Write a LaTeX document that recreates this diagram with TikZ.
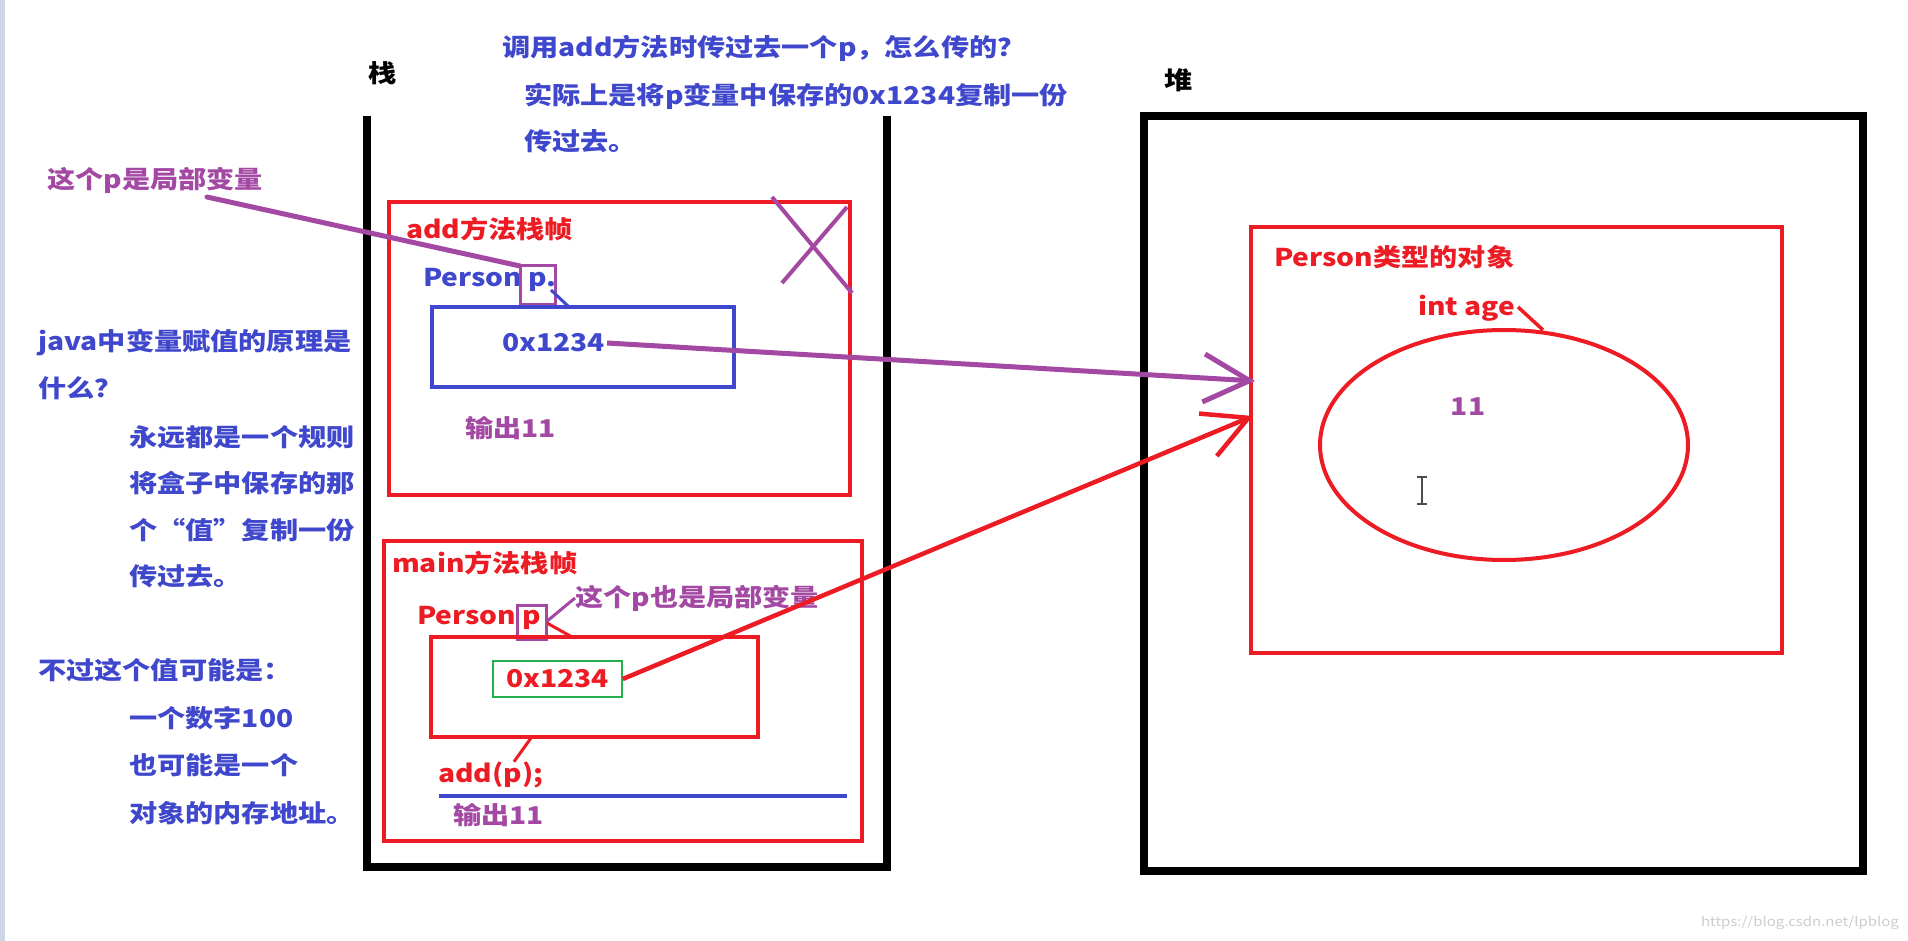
\documentclass[tikz,border=0pt]{standalone}
\usepackage{fontspec}
\setmainfont{Noto Sans CJK SC}[FakeStretch=1.15]
\usetikzlibrary{arrows.meta,shapes.geometric}
\definecolor{pblue}{RGB}{63,72,204}
\definecolor{pred}{RGB}{237,28,36}
\definecolor{ppurple}{RGB}{163,73,164}
\definecolor{pgreen}{RGB}{34,177,76}
\definecolor{wmark}{RGB}{205,205,205}
\definecolor{edgestrip}{RGB}{205,214,232}
\begin{document}
\begin{tikzpicture}[x=1pt,y=-1pt,
  txt/.style={inner sep=0pt, anchor=west, font=\bfseries\fontsize{24.5}{26}\selectfont},
  bluetxt/.style={txt,text=pblue},
  redtxt/.style={txt,text=pred},
  purpletxt/.style={txt,text=ppurple},
  blacktxt/.style={txt,text=black},
  boxnode/.style={inner sep=0pt, outer sep=0pt, anchor=north west, fill=none},
  redframe/.style={boxnode, draw=pred, line width=4pt},
  blueframe/.style={boxnode, draw=pblue, line width=4pt},
  purplesq/.style={boxnode, draw=ppurple, line width=3pt},
  blackframe/.style={draw=black, line width=8pt, line join=miter},
  purpleline/.style={draw=ppurple, line width=5pt, line cap=round},
]
\fill[white] (0,0) rectangle (1908,941);
\useasboundingbox (0,0) rectangle (1908,941);
\fill[edgestrip] (0,0) rectangle (5,941);

% labels
\node[blacktxt] (stk) at (368,73) {栈};
\node[blacktxt] (hp) at (1164,80) {堆};
\node[bluetxt] (q1) at (502,48) {调用add方法时传过去一个p，怎么传的？};
\node[bluetxt] (q2) at (524,96) {实际上是将p变量中保存的0x1234复制一份};
\node[bluetxt] (q3) at (524,141) {传过去。};

% left explanation
\node[purpletxt] (tlp) at (47,180) {这个p是局部变量};
\node[bluetxt] (l1) at (38,343) {java中变量赋值的原理是};
\node[bluetxt] (l2) at (38,388) {什么？};
\node[bluetxt] (l3) at (129,437) {永远都是一个规则};
\node[bluetxt] (l4) at (129,483) {将盒子中保存的那};
\node[bluetxt] (l5) at (129,530) {个“值”复制一份};
\node[bluetxt] (l6) at (129,576) {传过去。};
\node[bluetxt] (l7) at (38,670) {不过这个值可能是：};
\node[bluetxt] (l8) at (129,718) {一个数字100};
\node[bluetxt] (l9) at (129,765) {也可能是一个};
\node[bluetxt] (l10) at (129,813) {对象的内存地址。};

% stack
\coordinate (stA) at (367,116);
\coordinate (stB) at (367,867);
\coordinate (stC) at (887,867);
\coordinate (stD) at (887,116);
\draw[blackframe] (stA) -- (stB) -- (stC) -- (stD);

% add frame
\node[redframe, minimum width=461pt, minimum height=293pt] (addf) at (389,202) {};
\node[redtxt] (addt) at (406,229) {add方法栈帧};
\coordinate (x1a) at (772,197); \coordinate (x1b) at (852,293);
\coordinate (x2a) at (847,207); \coordinate (x2b) at (782,283);
\draw[draw=ppurple, line width=4pt] (x1a) -- (x1b);
\draw[draw=ppurple, line width=4pt] (x2a) -- (x2b);
\node[bluetxt] (aperson) at (423,280) {Person p.};
\node[purplesq, minimum width=35pt, minimum height=38pt] (apbox) at (520,266) {};
\node[blueframe, minimum width=302pt, minimum height=80pt] (abox) at (432,307) {};
\node[bluetxt] (aval) at (502,343) {0x1234};
\node[purpletxt] (aout) at (465,428) {输出11};
\coordinate (tlpfoot) at (207,197);
\draw[purpleline] (tlpfoot) -- (apbox.north west);
\coordinate (apdot) at (551,290);
\draw[draw=pblue, line width=3pt] (apdot) -- (abox.north west -| 569,0);

% main frame
\node[redframe, minimum width=478pt, minimum height=300pt] (mainf) at (384,541) {};
\node[redtxt] (maint) at (392,563) {main方法栈帧};
\node[redtxt] (mperson) at (417,618) {Person p};
\node[purplesq, minimum width=29pt, minimum height=34pt] (mpbox) at (517,605) {};
\node[purpletxt] (tlp2) at (575,598) {这个p也是局部变量};
\draw[draw=ppurple, line width=3pt] (tlp2.west) -- (mpbox.east);
\node[redframe, minimum width=327pt, minimum height=100pt] (mbox) at (431,637) {};
\coordinate (mpdot) at (547,623);
\draw[draw=pred, line width=3pt] (mpdot) -- (mbox.north west -| 572,0);
\node[draw=pgreen, line width=1.5pt, inner sep=0pt, minimum width=129pt, minimum height=36pt,
      text=pred, font=\bfseries\fontsize{24.5}{26}\selectfont] (mval) at (557.5,679) {0x1234};
\node[redtxt] (call) at (438,775) {add(p);};
\coordinate (mboxfoot) at (531,738);
\draw[draw=pred, line width=3pt] (mboxfoot) -- (call.north west -| 514,0);
\coordinate (ulA) at (439,796); \coordinate (ulB) at (847,796);
\draw[draw=pblue, line width=4pt] (ulA) -- (ulB);
\node[purpletxt] (mout) at (453,815) {输出11};

% heap
\node[boxnode, draw=black, line width=8pt, minimum width=719pt, minimum height=755pt] (heap) at (1144,116) {};
\node[redframe, minimum width=531pt, minimum height=426pt] (objf) at (1251,227) {};
\node[redtxt] (objt) at (1274,257) {Person类型的对象};
\node[redtxt] (age) at (1418,308) {int age};
\node[ellipse, draw=pred, line width=4pt, inner sep=0pt, outer sep=0pt, minimum width=368pt, minimum height=230pt] (ell) at (1504,445) {};
\node[purpletxt, anchor=center] (eleven) at (1468,407) {11};
\coordinate (agehook) at (1518,307);
\draw[draw=pred, line width=3.5pt] (agehook) -- (ell.north -| 1543,0);

% cursor glyph
\draw[line width=1.3pt, draw=black!70] (1422,477) -- (1422,504);
\draw[line width=1.3pt, draw=black!70] (1417,477) -- (1427,477);
\draw[line width=1.3pt, draw=black!70] (1417,504) -- (1427,504);

% arrows
\coordinate (ptrA) at (1255,381);
\coordinate (ptrM) at (1253,416);
\draw[draw=ppurple, line width=5pt, -{Straight Barb[length=46pt, width=48pt]}] ([xshift=2pt]aval.east) -- (ptrA);
\draw[draw=pred, line width=4.5pt, -{Straight Barb[length=44pt, width=46pt]}] (mval.east) -- (ptrM);

\node[anchor=east, inner sep=0pt, text=wmark, font=\fontsize{13}{13}\selectfont] (wm) at (1899,923) {https://blog.csdn.net/lpblog};
\end{tikzpicture}
\end{document}
